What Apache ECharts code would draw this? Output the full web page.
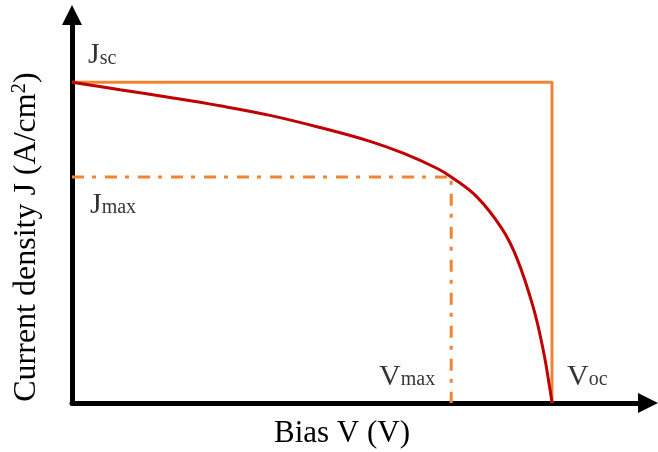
<!DOCTYPE html>
<html>
<head>
<meta charset="utf-8">
<script src="https://cdn.jsdelivr.net/npm/echarts@6/dist/echarts.min.js"></script>
<style>
  html, body { margin: 0; padding: 0; background: #fff; }
  #chart { width: 658px; height: 452px; }
</style>
</head>
<body>
<div id="chart"></div>
<script>
// J–V curve of a solar cell (normalised units: Voc = 1, Jsc = 1)
const curveV = [0, 0.10, 0.204, 0.308, 0.4125, 0.517, 0.621, 0.690, 0.760, 0.79, 0.844, 0.896, 0.927, 0.961, 0.982, 0.996, 1.0];
const curveJ = [1.0, 0.977, 0.953, 0.927, 0.897, 0.859, 0.816, 0.779, 0.732, 0.705, 0.642, 0.543, 0.451, 0.298, 0.163, 0.041, 0];

// Characteristic points
const Jsc = 1.0;
const Voc = 1.0;
const Jmax = 0.705;
const Vmax = 0.79;

const xAxisTitle = 'Bias V (V)';
const yAxisTitle = 'Current density J (A/cm{sup|2})';

const SERIF = '"Liberation Serif", "Times New Roman", serif';
const ORANGE = '#EF8434';
const RED = '#C00000';
const INK = '#000';

const curve = curveV.map((v, i) => [v, curveJ[i]]);

function subLabel(main, sub) {
  return {
    formatter: '{m|' + main + '}{s|' + sub + '}',
    rich: {
      m: { fontFamily: SERIF, fontSize: 30, color: INK, padding: [0, 0, 6, 0] },
      s: { fontFamily: SERIF, fontSize: 20, color: INK }
    }
  };
}

const chart = echarts.init(document.getElementById('chart'), null, { renderer: 'canvas' });

chart.setOption({
  backgroundColor: '#fff',
  animation: false,
  grid: { left: 72, right: 10, top: 15, bottom: 49, containLabel: false, outerBoundsMode: 'none' },
  xAxis: {
    type: 'value', min: 0, max: 1.2,
    name: xAxisTitle, nameLocation: 'middle', nameGap: 15,
    nameTextStyle: { fontFamily: SERIF, fontSize: 31, color: INK, padding: [0, 36, 0, 0] },
    axisLine: { lineStyle: { color: '#000', width: 5 }, symbol: ['none', 'triangle'], symbolSize: [20, 20], symbolOffset: [0, 0] },
    axisTick: { show: false }, axisLabel: { show: false }, splitLine: { show: false }
  },
  yAxis: {
    type: 'value', min: 0, max: 1.21,
    name: yAxisTitle, nameLocation: 'middle', nameGap: 27, nameRotate: 90,
    nameTextStyle: {
      fontFamily: SERIF, fontSize: 32, color: INK, padding: [0, 56, 0, 0],
      rich: { sup: { fontFamily: SERIF, fontSize: 21, color: INK, padding: [0, 0, 15, 0] } }
    },
    axisLine: { lineStyle: { color: '#000', width: 5 }, symbol: ['none', 'triangle'], symbolSize: [20, 20], symbolOffset: [0, 0] },
    axisTick: { show: false }, axisLabel: { show: false }, splitLine: { show: false }
  },
  series: [
    {
      name: 'Jsc-Voc',
      type: 'line', symbol: 'none', z: 2,
      lineStyle: { color: ORANGE, width: 3 },
      data: [[0, Jsc], [Voc, Jsc], [Voc, 0]]
    },
    {
      name: 'Jmax-Vmax',
      type: 'line', symbol: 'none', z: 2,
      lineStyle: { color: ORANGE, width: 3, type: [12, 8, 4, 9] },
      data: [[0, Jmax], [Vmax, Jmax], [Vmax, 0]]
    },
    {
      name: 'J-V',
      type: 'line', symbol: 'none', z: 3,
      smooth: 0.4,
      lineStyle: { color: RED, width: 3 },
      data: curve
    },
    {
      name: 'labels',
      type: 'scatter', symbolSize: 0, z: 4, silent: true,
      data: [
        { value: [0, Jsc], label: Object.assign({ show: true, position: [16, -6], align: 'left', verticalAlign: 'bottom' }, subLabel('J', 'sc')) },
        { value: [0, Jmax], label: Object.assign({ show: true, position: [18, 49], align: 'left', verticalAlign: 'bottom' }, subLabel('J', 'max')) },
        { value: [Vmax, 0], label: Object.assign({ show: true, position: [-16, -5], align: 'right', verticalAlign: 'bottom' }, subLabel('V', 'max')) },
        { value: [Voc, 0], label: Object.assign({ show: true, position: [15, -5], align: 'left', verticalAlign: 'bottom' }, subLabel('V', 'oc')) }
      ]
    }
  ]
});
</script>
</body>
</html>
